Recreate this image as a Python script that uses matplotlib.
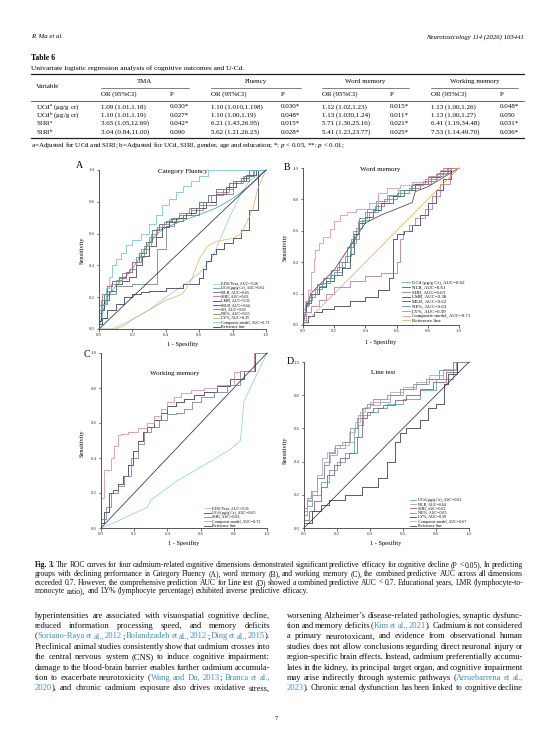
import matplotlib
matplotlib.use("Agg")
import matplotlib.pyplot as plt
from matplotlib.lines import Line2D

W, H = 553, 738
SERIF = ["Liberation Serif", "DejaVu Serif"]
plt.rcParams["font.family"] = SERIF
plt.rcParams["mathtext.fontset"] = "custom"
plt.rcParams["mathtext.rm"] = "Liberation Serif"
plt.rcParams["mathtext.it"] = "Liberation Serif:italic"

# ---------------- table data ----------------
tbl_groups = ["TMA", "Fluency", "Word memory", "Working memory"]
tbl_vars = [r"UCd$^{\mathrm{a}}$ (μg/g cr)", r"UCd$^{\mathrm{b}}$ (μg/g cr)", r"SIRI$^{\mathrm{a}}$", r"SIRI$^{\mathrm{b}}$"]
tma_or = ["1.09 (1.01,1.18)", "1.10 (1.01,1.19)", "3.65 (1.05,12.69)", "3.04 (0.84,11.00)"]
tma_p = ["0.030*", "0.027*", "0.042*", "0.090"]
flu_or = ["1.10 (1.010,1.198)", "1.10 (1.00,1.19)", "6.21 (1.43,26.95)", "5.62 (1.21,26.23)"]
flu_p = ["0.030*", "0.048*", "0.015*", "0.028*"]
wm_or = ["1.12 (1.02,1.23)", "1.13 (1.030,1.24)", "5.71 (1.30,25.16)", "5.41 (1.23,23.77)"]
wm_p = ["0.015*", "0.011*", "0.021*", "0.025*"]
wk_or = ["1.13 (1.00,1.26)", "1.13 (1.00,1.27)", "6.41 (1.19,34.48)", "7.53 (1.14,49.70)"]
wk_p = ["0.048*", "0.050", "0.031*", "0.036*"]

# ---------------- ROC data: panel A (Category Fluency) ----------------
a_edu = ([0, 0.08, 0.12, 0.2, 0.3, 0.4, 0.5, 0.6, 0.68, 0.72, 0.78, 0.85, 0.9, 1.0],
         [0, 0.0, 0.02, 0.06, 0.12, 0.2, 0.27, 0.35, 0.45, 0.55, 0.7, 0.85, 0.93, 1.0])
a_ucd = ([0, 0.02, 0.05, 0.1, 0.15, 0.2, 0.25, 0.3, 0.35, 0.4, 0.45, 0.5, 0.6, 0.7, 0.8, 0.9, 1.0],
         [0, 0.1, 0.2, 0.27, 0.32, 0.38, 0.46, 0.54, 0.6, 0.64, 0.66, 0.68, 0.72, 0.76, 0.82, 0.9, 1.0])
a_nlr = ([0, 0, 0.03, 0.05, 0.08, 0.12, 0.16, 0.2, 0.24, 0.28, 0.32, 0.36, 0.4, 0.44, 0.5, 0.55, 0.6, 0.65, 0.7, 0.78, 0.85, 0.9, 1.0],
         [0, 0.08, 0.15, 0.22, 0.27, 0.3, 0.33, 0.36, 0.42, 0.48, 0.55, 0.62, 0.66, 0.68, 0.7, 0.72, 0.76, 0.8, 0.84, 0.88, 0.92, 0.95, 1.0])
a_siri = ([0, 0.02, 0.05, 0.08, 0.12, 0.16, 0.2, 0.25, 0.3, 0.34, 0.38, 0.42, 0.48, 0.55, 0.62, 0.7, 0.78, 0.86, 0.92, 1.0],
          [0, 0.12, 0.22, 0.27, 0.3, 0.32, 0.36, 0.42, 0.5, 0.58, 0.63, 0.66, 0.69, 0.72, 0.75, 0.8, 0.86, 0.92, 0.96, 1.0])
a_lmr = ([0, 0.02, 0.05, 0.1, 0.15, 0.2, 0.25, 0.3, 0.4, 0.5, 0.6, 0.62, 0.64, 0.67, 0.7, 0.75, 0.8, 0.85, 0.9, 0.95, 1.0],
         [0, 0.03, 0.07, 0.12, 0.16, 0.2, 0.22, 0.23, 0.24, 0.26, 0.28, 0.32, 0.38, 0.43, 0.47, 0.5, 0.54, 0.57, 0.62, 0.75, 1.0])
a_mlr = ([0, 0.01, 0.03, 0.06, 0.1, 0.14, 0.18, 0.22, 0.26, 0.3, 0.34, 0.38, 0.42, 0.46, 0.52, 0.58, 0.64, 0.7, 0.76, 0.82, 0.88, 0.94, 1.0],
         [0, 0.05, 0.12, 0.18, 0.24, 0.28, 0.3, 0.33, 0.4, 0.46, 0.52, 0.58, 0.64, 0.67, 0.7, 0.73, 0.76, 0.8, 0.85, 0.89, 0.93, 0.97, 1.0])
a_sii = ([0, 0.02, 0.05, 0.1, 0.2, 0.25, 0.3, 0.35, 0.4, 0.45, 0.5, 0.6, 0.7, 0.8, 0.9, 1.0],
         [0, 0.1, 0.16, 0.22, 0.27, 0.28, 0.28, 0.28, 0.5, 0.65, 0.68, 0.72, 0.78, 0.85, 0.93, 1.0])
a_ne = ([0, 0.01, 0.04, 0.07, 0.1, 0.14, 0.18, 0.22, 0.27, 0.31, 0.35, 0.39, 0.43, 0.48, 0.54, 0.6, 0.67, 0.74, 0.8, 0.87, 0.93, 1.0],
        [0, 0.1, 0.18, 0.24, 0.28, 0.31, 0.35, 0.38, 0.45, 0.52, 0.6, 0.64, 0.67, 0.7, 0.73, 0.76, 0.8, 0.84, 0.88, 0.93, 0.96, 1.0])
a_ly = ([0, 0.1, 0.15, 0.2, 0.3, 0.4, 0.45, 0.5, 0.55, 0.6, 0.65, 0.7, 0.75, 0.8, 0.85, 0.88, 0.92, 0.95, 1.0],
        [0, 0.0, 0.02, 0.06, 0.12, 0.18, 0.2, 0.22, 0.3, 0.44, 0.52, 0.55, 0.56, 0.57, 0.6, 0.66, 0.75, 0.88, 1.0])
a_comp = ([0, 0.02, 0.04, 0.06, 0.08, 0.10, 0.13, 0.16, 0.20, 0.25, 0.30, 0.34, 0.38, 0.42, 0.46, 0.50, 0.55, 0.60, 0.65, 0.70, 1.0],
          [0, 0.08, 0.16, 0.26, 0.33, 0.40, 0.44, 0.48, 0.53, 0.56, 0.60, 0.66, 0.72, 0.78, 0.82, 0.86, 0.90, 0.93, 0.96, 1.0, 1.0])
ref_line = ([0, 1], [0, 1])
a_labels = ["EDU/Year, AUC=0.38", "UCd (μg/g Cr), AUC=0.62", "NLR, AUC=0.65", "SIRI, AUC=0.63",
            "LMR, AUC=0.36", "MLR, AUC=0.64", "SII, AUC=0.63", "NE%, AUC=0.65", "LY%, AUC=0.35",
            "Composite model, AUC=0.73", "Reference line"]

# ---------------- panel B (Word memory) ----------------
b_ucd = ([0, 0.01, 0.03, 0.06, 0.1, 0.15, 0.2, 0.25, 0.3, 0.34, 0.38, 0.42, 0.48, 0.55, 0.62, 0.7, 0.78, 0.86, 0.93, 1.0],
         [0, 0.06, 0.12, 0.16, 0.2, 0.25, 0.3, 0.34, 0.4, 0.52, 0.62, 0.67, 0.72, 0.78, 0.82, 0.86, 0.9, 0.93, 0.97, 1.0])
b_nlr = ([0, 0.02, 0.05, 0.1, 0.15, 0.2, 0.25, 0.3, 0.33, 0.36, 0.4, 0.45, 0.5, 0.58, 0.65, 0.72, 0.8, 0.88, 0.95, 1.0],
         [0, 0.08, 0.14, 0.2, 0.24, 0.28, 0.32, 0.36, 0.45, 0.58, 0.65, 0.69, 0.73, 0.78, 0.82, 0.86, 0.9, 0.94, 0.98, 1.0])
b_siri = ([0, 0.02, 0.05, 0.09, 0.13, 0.18, 0.23, 0.28, 0.32, 0.35, 0.4, 0.46, 0.52, 0.6, 0.68, 0.75, 0.82, 0.9, 1.0],
          [0, 0.1, 0.15, 0.2, 0.26, 0.3, 0.35, 0.4, 0.5, 0.6, 0.66, 0.72, 0.76, 0.8, 0.84, 0.87, 0.9, 0.95, 1.0])
b_lmr = ([0, 0.03, 0.07, 0.12, 0.2, 0.3, 0.4, 0.48, 0.55, 0.58, 0.6, 0.65, 0.7, 0.75, 0.8, 0.85, 0.9, 0.95, 1.0],
         [0, 0.02, 0.06, 0.08, 0.1, 0.12, 0.15, 0.18, 0.22, 0.3, 0.55, 0.58, 0.6, 0.64, 0.7, 0.78, 0.86, 0.93, 1.0])
b_mlr = ([0, 0.02, 0.05, 0.1, 0.2, 0.3, 0.4, 0.5, 0.6, 0.7, 0.72, 0.8, 0.9, 1.0],
         [0, 0.1, 0.2, 0.25, 0.35, 0.5, 0.65, 0.7, 0.74, 0.78, 0.85, 0.88, 0.94, 1.0])
b_ne = ([0, 0.01, 0.04, 0.08, 0.12, 0.17, 0.22, 0.27, 0.31, 0.36, 0.41, 0.47, 0.54, 0.61, 0.69, 0.77, 0.85, 0.92, 1.0],
        [0, 0.07, 0.13, 0.18, 0.23, 0.27, 0.32, 0.37, 0.44, 0.55, 0.68, 0.74, 0.79, 0.83, 0.86, 0.89, 0.92, 0.96, 1.0])
b_ly = ([0, 0.02, 0.05, 0.1, 0.15, 0.2, 0.3, 0.4, 0.5, 0.57, 0.6, 0.62, 0.64, 0.68, 0.72, 0.78, 0.83, 0.88, 0.94, 1.0],
        [0, 0.03, 0.08, 0.12, 0.16, 0.2, 0.24, 0.28, 0.31, 0.33, 0.33, 0.4, 0.55, 0.6, 0.64, 0.68, 0.74, 0.82, 0.9, 1.0])
b_comp = ([0, 0.01, 0.03, 0.05, 0.07, 0.08, 0.1, 0.13, 0.17, 0.2, 0.24, 0.28, 0.34, 0.42, 0.48, 0.54, 0.62, 0.7, 0.8, 0.88, 0.95, 1.0],
          [0, 0.06, 0.15, 0.22, 0.34, 0.42, 0.48, 0.52, 0.56, 0.61, 0.66, 0.7, 0.72, 0.74, 0.78, 0.84, 0.87, 0.89, 0.91, 0.95, 0.99, 1.0])
b_labels = ["UCd (μg/g Cr), AUC=0.62", "NLR, AUC=0.61", "SIRI, AUC=0.63", "LMR, AUC=0.38",
            "MLR, AUC=0.62", "NE%, AUC=0.63", "LY%, AUC=0.39", "Composite model, AUC=0.71", "Reference line"]

# ---------------- panel C (Working memory) ----------------
c_edu = ([0, 0.08, 0.28, 0.30, 0.46, 0.64, 0.78, 0.84, 0.85, 0.86, 1.0],
         [0, 0.03, 0.12, 0.16, 0.27, 0.37, 0.45, 0.5, 0.6, 0.72, 1.0])
c_ucd = ([0, 0.02, 0.05, 0.07, 0.1, 0.13, 0.16, 0.19, 0.22, 0.25, 0.28, 0.32, 0.36, 0.4, 0.45, 0.5, 0.56, 0.62, 0.7, 0.78, 0.86, 0.93, 1.0],
         [0, 0.03, 0.09, 0.2, 0.22, 0.25, 0.3, 0.36, 0.44, 0.5, 0.55, 0.58, 0.62, 0.66, 0.7, 0.72, 0.74, 0.76, 0.78, 0.81, 0.85, 0.9, 1.0])
c_siri = ([0, 0.03, 0.06, 0.1, 0.14, 0.18, 0.22, 0.26, 0.3, 0.35, 0.4, 0.45, 0.5, 0.55, 0.6, 0.68, 0.76, 0.84, 0.92, 1.0],
          [0, 0.05, 0.12, 0.2, 0.24, 0.3, 0.4, 0.48, 0.55, 0.58, 0.62, 0.65, 0.66, 0.68, 0.72, 0.75, 0.78, 0.82, 0.9, 1.0])
c_comp = ([0, 0, 0.02, 0.06, 0.08, 0.1, 0.12, 0.16, 0.22, 0.28, 0.32, 0.36, 0.4, 0.44, 0.48, 0.54, 0.62, 0.7, 0.8, 0.84, 0.92, 1.0],
          [0, 0.13, 0.17, 0.33, 0.40, 0.47, 0.53, 0.54, 0.55, 0.57, 0.6, 0.64, 0.68, 0.72, 0.75, 0.77, 0.79, 0.8, 0.82, 0.89, 0.9, 1.0])
c_labels = ["EDU/Year, AUC=0.36", "UCd (μg/g Cr), AUC=0.65", "SIRI, AUC=0.63",
            "Composite model, AUC=0.72", "Reference line"]

# ---------------- panel D (Line test) ----------------
d_ucd = ([0, 0.02, 0.05, 0.1, 0.15, 0.2, 0.25, 0.3, 0.33, 0.36, 0.4, 0.45, 0.5, 0.6, 0.7, 0.8, 0.9, 1.0],
         [0, 0.08, 0.13, 0.2, 0.28, 0.35, 0.4, 0.45, 0.55, 0.62, 0.68, 0.7, 0.72, 0.75, 0.78, 0.83, 0.9, 1.0])
d_nlr = ([0, 0.02, 0.05, 0.08, 0.12, 0.16, 0.2, 0.25, 0.3, 0.33, 0.36, 0.4, 0.46, 0.52, 0.6, 0.68, 0.76, 0.84, 0.92, 1.0],
         [0, 0.1, 0.16, 0.2, 0.3, 0.4, 0.44, 0.48, 0.52, 0.6, 0.68, 0.72, 0.74, 0.76, 0.8, 0.84, 0.87, 0.9, 0.95, 1.0])
d_siri = ([0, 0.03, 0.06, 0.1, 0.14, 0.18, 0.22, 0.27, 0.32, 0.35, 0.38, 0.42, 0.48, 0.55, 0.62, 0.7, 0.78, 0.86, 0.93, 1.0],
          [0, 0.05, 0.1, 0.16, 0.25, 0.32, 0.38, 0.42, 0.45, 0.55, 0.66, 0.7, 0.72, 0.74, 0.77, 0.8, 0.84, 0.88, 0.94, 1.0])
d_ne = ([0, 0.02, 0.04, 0.08, 0.12, 0.15, 0.19, 0.23, 0.28, 0.32, 0.35, 0.38, 0.42, 0.5, 0.58, 0.66, 0.74, 0.82, 0.9, 1.0],
        [0, 0.12, 0.18, 0.22, 0.3, 0.38, 0.45, 0.5, 0.52, 0.6, 0.66, 0.72, 0.75, 0.78, 0.8, 0.84, 0.87, 0.9, 0.95, 1.0])
d_ly = ([0, 0.05, 0.1, 0.15, 0.25, 0.35, 0.45, 0.5, 0.55, 0.58, 0.62, 0.7, 0.75, 0.8, 0.85, 0.87, 0.93, 1.0],
        [0, 0.03, 0.1, 0.14, 0.17, 0.2, 0.25, 0.3, 0.4, 0.52, 0.57, 0.6, 0.65, 0.72, 0.75, 0.87, 0.93, 1.0])
d_comp = ([0, 0.02, 0.05, 0.08, 0.11, 0.14, 0.18, 0.22, 0.27, 0.31, 0.34, 0.37, 0.4, 0.46, 0.52, 0.6, 0.68, 0.76, 0.84, 0.92, 1.0],
          [0, 0.1, 0.17, 0.22, 0.32, 0.42, 0.46, 0.48, 0.5, 0.58, 0.64, 0.7, 0.73, 0.76, 0.78, 0.82, 0.85, 0.88, 0.92, 0.96, 1.0])
d_labels = ["UCd (μg/g Cr), AUC=0.62", "NLR, AUC=0.64", "SIRI, AUC=0.62", "NE%, AUC=0.65",
            "LY%, AUC=0.39", "Composite model, AUC=0.67", "Reference line"]

# ---------------- text ----------------
caption_lines = [
    "[Fig. 3.] The ROC curves for four cadmium-related cognitive dimensions demonstrated significant predictive efficacy for cognitive decline (P < 0.05). In predicting",
    "groups with declining performance in Category Fluency (A), word memory (B), and working memory (C), the combined predictive AUC across all dimensions",
    "exceeded 0.7. However, the comprehensive prediction AUC for Line test (D) showed a combined predictive AUC < 0.7. Educational years, LMR (lymphocyte-to-",
    "monocyte ratio), and LY% (lymphocyte percentage) exhibited inverse predictive efficacy.",
]
left_col = [
    "hyperintensities are associated with visuospatial cognitive decline,",
    "reduced information processing speed, and memory deficits",
    "({Soriano-Raya et al., 2012}; {Bolandzadeh et al., 2012}; {Ding et al., 2015}).",
    "Preclinical animal studies consistently show that cadmium crosses into",
    "the central nervous system (CNS) to induce cognitive impairment:",
    "damage to the blood-brain barrier enables further cadmium accumula-",
    "tion to exacerbate neurotoxicity ({Wang and Du, 2013}; {Branca et al.,",
    "{2020}), and chronic cadmium exposure also drives oxidative stress,",
]
right_col = [
    "worsening Alzheimer’s disease-related pathologies, synaptic dysfunc-",
    "tion and memory deficits ({Kim et al., 2021}). Cadmium is not considered",
    "a primary neurotoxicant, and evidence from observational human",
    "studies does not allow conclusions regarding direct neuronal injury or",
    "region-specific brain effects. Instead, cadmium preferentially accumu-",
    "lates in the kidney, its principal target organ, and cognitive impairment",
    "may arise indirectly through systemic pathways ({Arruebarrena et al.,",
    "{2023}). Chronic renal dysfunction has been linked to cognitive decline",
]

fig = plt.figure(figsize=(W / 100, H / 100), dpi=100)
fig.patch.set_facecolor("white")
R = fig.canvas.get_renderer()


def fx(x):
    return x / W


def fy(y):
    return 1 - y / H


def ptext(x, y, s, size, ha="left", va="center", **kw):
    return fig.text(fx(x), fy(y), s, fontsize=size, ha=ha, va=va, **kw)


def hline(x0, x1, y, lw):
    fig.add_artist(Line2D([fx(x0), fx(x1)], [fy(y), fy(y)], transform=fig.transFigure,
                          color="#222222", lw=lw))


def parse(line):
    words, cur, seg, style = [], [], "", "n"
    for ch in line:
        if ch in "{[":
            if seg:
                cur.append((seg, style)); seg = ""
            style = "l" if ch == "{" else "b"
        elif ch in "}]":
            if seg:
                cur.append((seg, style)); seg = ""
            style = "n"
        elif ch == " ":
            if seg:
                cur.append((seg, style)); seg = ""
            if cur:
                words.append(cur); cur = []
        else:
            seg += ch
    if seg:
        cur.append((seg, style))
    if cur:
        words.append(cur)
    return words


def set_line(line, x0, x1, y, size, justify=True):
    words = parse(line)
    em = size * 100 / 72
    base = fy(y + 0.3 * em)
    items, total = [], 0.0
    for w in words:
        segs, ww = [], 0.0
        for s, st in w:
            t = fig.text(0, base, s, fontsize=size, va="baseline",
                         color="#3d8fc4" if st == "l" else "#111111",
                         weight="bold" if st == "b" else "normal")
            wd = t.get_window_extent(R).width
            segs.append((t, wd)); ww += wd
        items.append((segs, ww)); total += ww
    if justify and len(items) > 1:
        gap = (x1 - x0 - total) / (len(items) - 1)
    else:
        gap = em * 0.25
    x = x0
    for segs, ww in items:
        for t, wd in segs:
            t.set_x(fx(x)); x += wd
        x += gap


# ---------------- header & table ----------------
TS = 5.0
ptext(31, 37, "R. Ma et al.", 4.9, style="italic")
ptext(524, 37, "Neurotoxicology 114 (2026) 103441", 4.9, ha="right", style="italic")
ptext(31, 58, "Table 6", 5.6, weight="bold")
ptext(31, 68, "Univariate logistic regression analysis of cognitive outcomes and U-Cd.", 5.3)
hline(31, 524, 74, 0.9)
ptext(36, 87, "Variable", TS)
grp_x = [(101, 189), (211, 301), (322, 409), (431, 518)]
or_x = [101, 211, 322, 431]
p_x = [170, 281, 390, 500]
for (g0, g1), g in zip(grp_x, tbl_groups):
    ptext((g0 + g1) / 2, 81.5, g, TS, ha="center")
    hline(g0, g1, 87.5, 0.4)
for ox, px in zip(or_x, p_x):
    ptext(ox, 94, "OR (95%CI)", TS)
    ptext(px, 94, "P", TS)
hline(31, 524, 100.5, 0.5)
row_y = [106.8, 115.3, 123.6, 132.0]
cols = [(tma_or, tma_p), (flu_or, flu_p), (wm_or, wm_p), (wk_or, wk_p)]
for i, ry in enumerate(row_y):
    ptext(36, ry, tbl_vars[i], TS)
    for (ors, ps), ox, px in zip(cols, or_x, p_x):
        ptext(ox, ry, ors[i], TS)
        ptext(px, ry, ps[i], TS)
hline(31, 524, 138, 0.9)
ptext(31, 145.5, "a=Adjusted for UCd and SIRI; b=Adjusted for UCd, SIRI, gender, age and education; *: $p$ < 0.05, **: $p$ < 0.01;", TS)

# ---------------- ROC panels ----------------
panels = [
    dict(box=(99, 266, 170, 329), letter="A", lxy=(76, 166), title="Category Fluency", txy=(183, 171),
         ylab=(82, 250), xlab=(183, 344), curves=[a_edu, a_ucd, a_nlr, a_siri, a_lmr, a_mlr, a_sii, a_ne, a_ly, a_comp, ref_line],
         labels=a_labels,
         colors=["#8fcfe0", "#4aa3a8", "#505a60", "#c0609a", "#2b2f55", "#3a3a3a", "#6a7a80", "#5f8f78", "#d4bc6a", "#6cc2c8", "#2e2e3a"],
         steps=[False, False, True, True, True, True, True, True, False, True, False],
         leg=(0.683, 0.0), legsize=3.0),
    dict(box=(303, 459, 168, 325), letter="B", lxy=(284, 167), title="Word memory", txy=(380, 170),
         ylab=(285, 247), xlab=(381, 342), curves=[b_ucd, b_nlr, b_siri, b_lmr, b_mlr, b_ne, b_ly, b_comp, ref_line],
         labels=b_labels,
         colors=["#4aa3a8", "#3b4a55", "#9a6a9a", "#2b2f55", "#5a3a4a", "#5f8f78", "#b070a0", "#e08aa8", "#e0b050"],
         steps=[True, True, True, True, False, True, True, True, False],
         leg=(0.635, 0.013), legsize=3.5),
    dict(box=(101, 267, 353, 528), letter="C", lxy=(84, 354), title="Working memory", txy=(175, 373),
         ylab=(82, 443), xlab=(184, 543), curves=[c_edu, c_ucd, c_siri, c_comp, ref_line],
         labels=c_labels,
         colors=["#8fcfe0", "#2b2f55", "#707a90", "#d88a9a", "#3a2a3a"],
         steps=[False, True, True, True, False],
         leg=(0.62, 0.0), legsize=3.0),
    dict(box=(304, 469, 362, 528), letter="D", lxy=(287, 362), title="Line test", txy=(383, 373),
         ylab=(285, 450), xlab=(386, 543), curves=[d_ucd, d_nlr, d_siri, d_ne, d_ly, d_comp, ref_line],
         labels=d_labels,
         colors=["#4aa3a8", "#8aa0b0", "#905070", "#7a8a8a", "#2b2f40", "#b0a0b0", "#303050"],
         steps=[True, True, True, True, True, True, False],
         leg=(0.64, 0.0), legsize=3.0),
]

for p in panels:
    l, r, t, b = p["box"]
    ax = fig.add_axes([fx(l), fy(b), (r - l) / W, (b - t) / H])
    ax.set_xlim(0, 1)
    ax.set_ylim(0, 1)
    for s in ["top", "right"]:
        ax.spines[s].set_visible(False)
    for s in ["left", "bottom"]:
        ax.spines[s].set_color("#555555")
        ax.spines[s].set_linewidth(0.7)
    ticks = [0.0, 0.2, 0.4, 0.6, 0.8, 1.0]
    ax.set_xticks(ticks)
    ax.set_yticks(ticks)
    ax.set_xticklabels([f"{v:.1f}" for v in ticks])
    ax.set_yticklabels([f"{v:.1f}" for v in ticks])
    ax.tick_params(length=1.8, width=0.5, labelsize=3.4, pad=1.2, colors="#333333")
    ax.patch.set_alpha(0)
    handles = []
    for (xs, ys), c, st in zip(p["curves"], p["colors"], p["steps"]):
        h, = ax.plot(xs, ys, color=c, lw=0.55, drawstyle="steps-pre" if st else "default",
                     clip_on=False)
        handles.append(h)
    ax.legend(handles, p["labels"], loc="lower left", bbox_to_anchor=p["leg"], frameon=False,
              fontsize=p["legsize"], handlelength=1.6, handletextpad=0.4, labelspacing=0.05,
              borderpad=0, borderaxespad=0)
    ptext(*p["lxy"], p["letter"], 7.2)
    ptext(*p["txy"], p["title"], 5.0, ha="center")
    ptext(*p["ylab"], "Sensitivity", 4.6, ha="center", rotation=90)
    ptext(*p["xlab"], "1 - Spesifity", 4.6, ha="center")

# ---------------- caption & body ----------------
cap_y = [565, 573.8, 582.5, 591.2]
for i, (ln, yy) in enumerate(zip(caption_lines, cap_y)):
    set_line(ln, 35, 523, yy, 5.5, justify=(i < len(caption_lines) - 1))
body_y = [615, 625.4, 635.8, 646.2, 656.6, 667.0, 677.4, 687.8]
for ln, yy in zip(left_col, body_y):
    set_line(ln, 35, 270, yy, 6.1)
for ln, yy in zip(right_col, body_y):
    set_line(ln, 287, 523, yy, 6.1)
ptext(276, 719, "7", 4.8, ha="center")

fig.savefig("out.png", dpi=100, facecolor="white")
